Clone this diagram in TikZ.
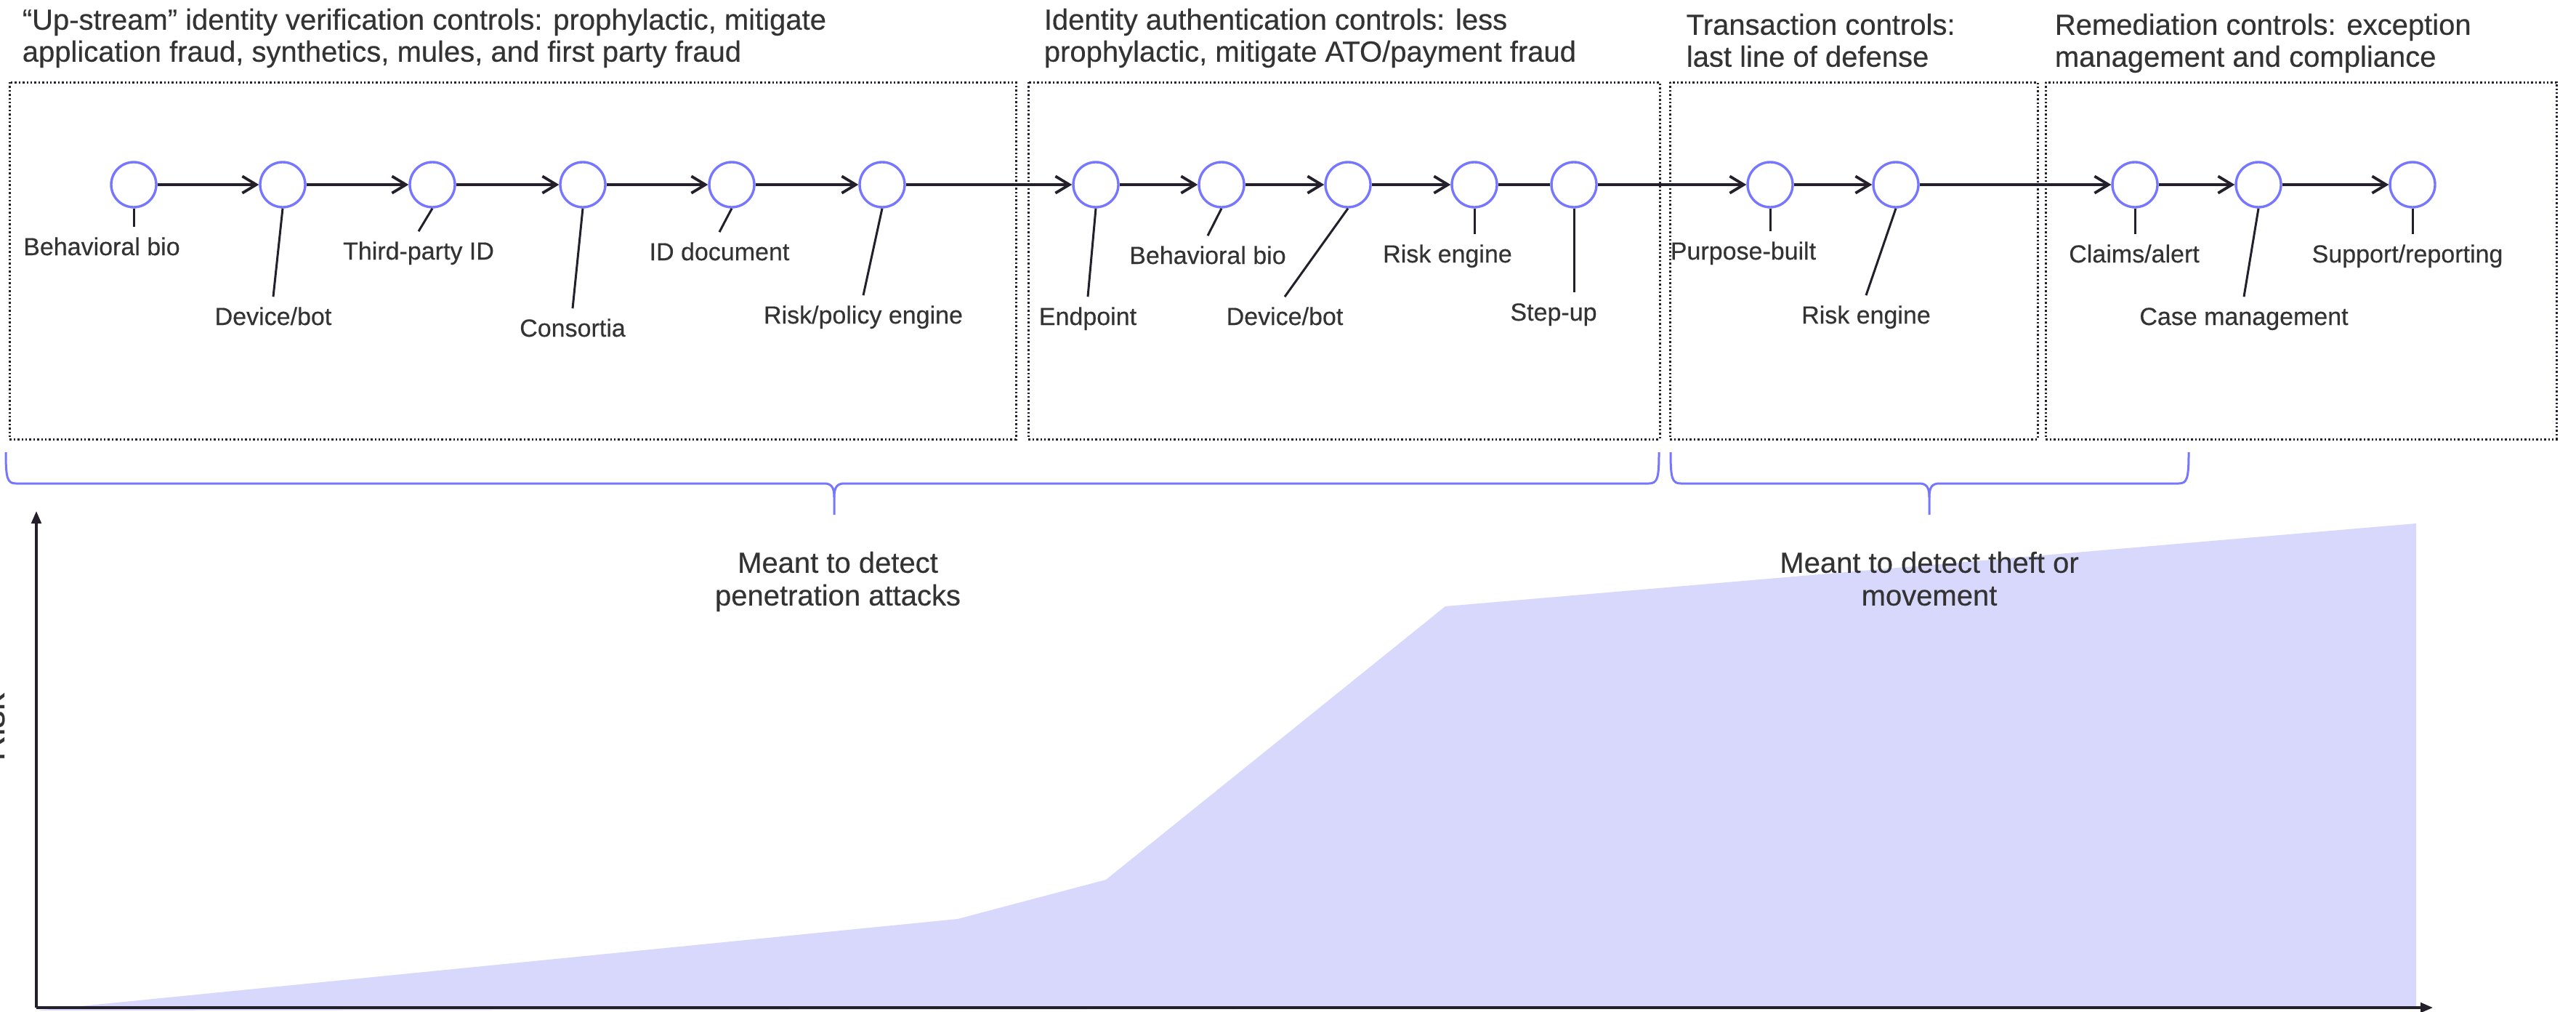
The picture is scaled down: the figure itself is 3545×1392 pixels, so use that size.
\documentclass[tikz,border=0pt]{standalone}
\usepackage{fontspec}
\setmainfont[FakeBold=0.35]{Liberation Sans}
\usetikzlibrary{arrows.meta}
\definecolor{ink}{HTML}{231F2B}
\definecolor{txt}{HTML}{333333}
\definecolor{accent}{HTML}{7676FF}
\definecolor{areaclr}{HTML}{D8D8FD}
\begin{document}
\begin{tikzpicture}[x=0.25pt,y=-0.25pt,
  ctrl/.style={circle, draw=accent, line width=0.85pt, fill=white, minimum size=15.5pt, inner sep=0pt},
  lab/.style={font=\fontsize{8.5}{10}\selectfont, text=txt, text height=6.2pt, text depth=1.8pt, inner sep=3.3pt, anchor=base},
  hdr/.style={font=\fontsize{10}{11}\selectfont, text=txt, align=left, anchor=north west, inner sep=0pt},
  zone/.style={draw=ink, line width=0.75pt, dash pattern=on 0.6pt off 0.75pt},
  flow/.style={draw=ink, line width=0.95pt},
  flowarrow/.style={flow, -{Straight Barb[length=4.8pt,width=5.8pt]}},
  leader/.style={draw=ink, line width=0.75pt},
  bracepath/.style={draw=accent, line width=0.75pt},
  axisline/.style={draw=ink, line width=0.8pt, -{Triangle[length=4.25pt,width=3.4pt]}},
  note/.style={font=\fontsize{10}{11.25}\selectfont, text=txt, align=center, anchor=north, inner sep=0pt},
  ylab/.style={font=\fontsize{12}{14}\selectfont, text=txt, rotate=90, anchor=base, inner sep=0pt}
]
\useasboundingbox (0,0) rectangle (3545,1392);

% ---- chart ----
\fill[areaclr] (50,1390) -- (1318,1264) -- (1522,1210) -- (1989,834) -- (3325,720) -- (3325,1386) -- cycle;
\coordinate (org) at (50,1386);
\coordinate (ytop) at (50,703);
\coordinate (xend) at (3348,1386);
\draw[axisline] (org) -- (ytop);
\draw[axisline] (org) -- (xend);
\node[ylab] (risk) at (6,1000) {Risk};

% ---- zones ----
\draw[zone] (13,113) rectangle (1398,604);
\draw[zone] (1415,113) rectangle (2284,604);
\draw[zone] (2298,113) rectangle (2804,604);
\draw[zone] (2815,113) rectangle (3518,604);

% ---- headers ----
\node[hdr] (h1) at (30,11) {“Up-stream” identity verification controls: prophylactic, mitigate\\application fraud, synthetics, mules, and first party fraud};
\node[hdr] (h2) at (1436,11) {Identity authentication controls: less\\prophylactic, mitigate ATO/payment fraud};
\node[hdr] (h3) at (2320,18) {Transaction controls:\\last line of defense};
\node[hdr] (h4) at (2827,18) {Remediation controls: exception\\management and compliance};

% ---- control circles ----
\foreach \n/\x in {c1/184,c2/389,c3/595,c4/802,c5/1007,c6/1214,
                   d1/1508,d2/1681,d3/1855,d4/2029,d5/2166,
                   e1/2436,e2/2609,
                   f1/2938,f2/3108,f3/3320}
  \node[ctrl] (\n) at (\x,254) {};

% ---- labels ----
\node[lab] (l1) at (140,351) {Behavioral bio};
\node[lab] (l2) at (376,447) {Device/bot};
\node[lab] (l3) at (576,357) {Third-party ID};
\node[lab] (l4) at (788,463) {Consortia};
\node[lab] (l5) at (990,358) {ID document};
\node[lab] (l6) at (1188,445) {Risk/policy engine};
\node[lab] (m1) at (1497,447) {Endpoint};
\node[lab] (m2) at (1662,363) {Behavioral bio};
\node[lab] (m3) at (1768,447) {Device/bot};
\node[lab] (m4) at (1992,361) {Risk engine};
\node[lab] (m5) at (2138,441) {Step-up};
\node[lab] (n1) at (2399,357) {Purpose-built};
\node[lab] (n2) at (2568,445) {Risk engine};
\node[lab] (p1) at (2937,361) {Claims/alert};
\node[lab] (p2) at (3088,447) {Case management};
\node[lab] (p3) at (3313,361) {Support/reporting};

% ---- leaders ----
\draw[leader] (c1.south) -- (c1.south |- l1.north);
\draw[leader] (c2.south) -- (l2.north);
\draw[leader] (c3.south) -- (l3.north);
\draw[leader] (c4.south) -- (l4.north);
\draw[leader] (c5.south) -- (l5.north);
\draw[leader] (c6.south) -- (l6.north);
\draw[leader] (d1.south) -- (m1.north);
\draw[leader] (d2.south) -- (m2.north);
\draw[leader] (d3.south) -- (m3.north);
\draw[leader] (d4.south) -- (d4.south |- m4.north);
\draw[leader] (d5.south) -- (d5.south |- m5.north);
\draw[leader] (e1.south) -- (e1.south |- n1.north);
\draw[leader] (e2.south) -- (n2.north);
\draw[leader] (f1.south) -- (f1.south |- p1.north);
\draw[leader] (f2.south) -- (p2.north);
\draw[leader] (f3.south) -- (f3.south |- p3.north);

% ---- flow ----
\draw[flowarrow] (c1) -- (c2);
\draw[flowarrow] (c2) -- (c3);
\draw[flowarrow] (c3) -- (c4);
\draw[flowarrow] (c4) -- (c5);
\draw[flowarrow] (c5) -- (c6);
\draw[flowarrow] (c6) -- (d1);
\draw[flowarrow] (d1) -- (d2);
\draw[flowarrow] (d2) -- (d3);
\draw[flowarrow] (d3) -- (d4);
\draw[flow] (d4) -- (d5);
\draw[flowarrow] (d5) -- (e1);
\draw[flowarrow] (e1) -- (e2);
\draw[flowarrow] (e2) -- (f1);
\draw[flowarrow] (f1) -- (f2);
\draw[flowarrow] (f2) -- (f3);

% ---- braces ----
\draw[bracepath] (8,622) .. controls (8,658) and (10,665) .. (22,665) -- (1134,665)
  .. controls (1144,665) and (1148,670) .. (1148,684) -- (1148,708);
\draw[bracepath] (1148,684) .. controls (1148,670) and (1152,665) .. (1162,665) -- (2269,665)
  .. controls (2281,665) and (2283,658) .. (2283,622);
\draw[bracepath] (2299,622) .. controls (2299,658) and (2301,665) .. (2313,665) -- (2641,665)
  .. controls (2651,665) and (2655,670) .. (2655,684) -- (2655,708);
\draw[bracepath] (2655,684) .. controls (2655,670) and (2659,665) .. (2669,665) -- (2998,665)
  .. controls (3010,665) and (3012,658) .. (3012,622);

% ---- notes ----
\node[note] (notepen) at (1153,758) {Meant to detect\\penetration attacks};
\node[note] (notetheft) at (2655,758) {Meant to detect theft or\\movement};
\end{tikzpicture}
\end{document}
